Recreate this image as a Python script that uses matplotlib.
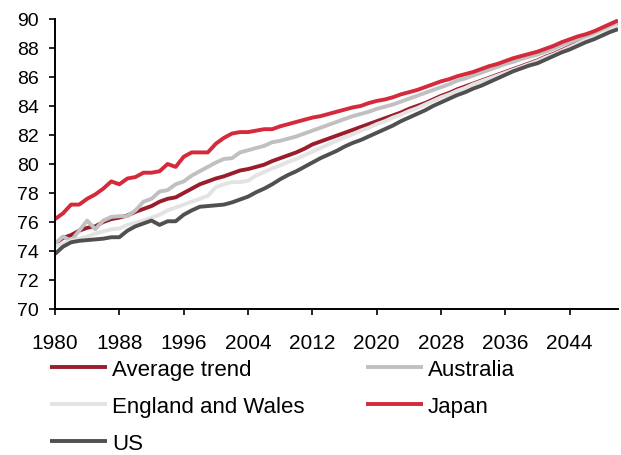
import matplotlib.pyplot as plt
import numpy as np

plt.rcParams['font.family'] = ['Liberation Sans', 'DejaVu Sans']

# Life expectancy projections, 1980-2050
years = np.arange(1980, 2051)

average_trend = [
    74.5, 74.9, 75.1, 75.4, 75.6, 75.7, 76.0, 76.2, 76.3, 76.45,
    76.7, 76.9, 77.1, 77.4, 77.6, 77.7, 78.0, 78.3, 78.6, 78.8,
    79.0, 79.15, 79.35, 79.55, 79.65, 79.8, 79.95, 80.2, 80.4, 80.6,
    80.8, 81.05, 81.35, 81.55, 81.75, 81.95, 82.15, 82.35, 82.55, 82.75,
    82.95, 83.15, 83.35, 83.55, 83.8, 84.0, 84.2, 84.45, 84.7, 84.9,
    85.15, 85.35, 85.55, 85.75, 85.95, 86.15, 86.35, 86.55, 86.75, 86.95,
    87.15, 87.4, 87.6, 87.85, 88.1, 88.35, 88.6, 88.8, 89.05, 89.3,
    89.55,
]
australia = [
    74.5, 75.0, 74.7, 75.4, 76.1, 75.5, 76.1, 76.35, 76.4, 76.4,
    76.8, 77.4, 77.6, 78.1, 78.2, 78.6, 78.8, 79.2, 79.5, 79.8,
    80.1, 80.35, 80.4, 80.8, 80.95, 81.1, 81.25, 81.5, 81.6, 81.75,
    81.9, 82.1, 82.3, 82.5, 82.7, 82.9, 83.1, 83.3, 83.45, 83.6,
    83.8, 83.95, 84.1, 84.3, 84.5, 84.7, 84.9, 85.1, 85.3, 85.5,
    85.75, 85.9, 86.1, 86.3, 86.5, 86.7, 86.9, 87.05, 87.25, 87.4,
    87.55, 87.75, 87.95, 88.2, 88.4, 88.6, 88.8, 89.0, 89.2, 89.45,
    89.7,
]
england_wales = [
    74.3, 74.5, 74.7, 74.85, 75.0, 75.2, 75.35, 75.5, 75.55, 75.8,
    75.95, 76.1, 76.3, 76.5, 76.8, 77.0, 77.2, 77.4, 77.6, 77.8,
    78.4, 78.6, 78.75, 78.75, 78.85, 79.2, 79.45, 79.7, 79.9, 80.15,
    80.35, 80.6, 80.85, 81.1, 81.35, 81.6, 81.85, 82.05, 82.3, 82.5,
    82.75, 82.95, 83.2, 83.4, 83.65, 83.85, 84.1, 84.35, 84.6, 84.8,
    85.05, 85.25, 85.5, 85.7, 85.9, 86.1, 86.3, 86.5, 86.7, 86.9,
    87.1, 87.35, 87.55, 87.8, 88.05, 88.3, 88.55, 88.75, 89.0, 89.25,
    89.5,
]
japan = [
    76.2, 76.6, 77.2, 77.2, 77.6, 77.9, 78.3, 78.8, 78.6, 79.0,
    79.1, 79.4, 79.4, 79.5, 80.0, 79.8, 80.5, 80.8, 80.8, 80.8,
    81.4, 81.8, 82.1, 82.2, 82.2, 82.3, 82.4, 82.4, 82.6, 82.75,
    82.9, 83.05, 83.2, 83.3, 83.45, 83.6, 83.75, 83.9, 84.0, 84.2,
    84.35, 84.45, 84.6, 84.8, 84.95, 85.1, 85.3, 85.5, 85.7, 85.85,
    86.05, 86.2, 86.35, 86.55, 86.75, 86.9, 87.1, 87.3, 87.45, 87.6,
    87.75, 87.95, 88.15, 88.4, 88.6, 88.8, 88.95, 89.15, 89.4, 89.65,
    89.9,
]
us = [
    73.8, 74.3, 74.6, 74.7, 74.75, 74.8, 74.85, 74.95, 74.95, 75.4,
    75.7, 75.9, 76.1, 75.8, 76.05, 76.05, 76.5, 76.8, 77.05, 77.1,
    77.15, 77.2, 77.35, 77.55, 77.75, 78.05, 78.3, 78.6, 78.95, 79.25,
    79.5, 79.8, 80.1, 80.4, 80.65, 80.9, 81.2, 81.45, 81.65, 81.9,
    82.15, 82.4, 82.65, 82.95, 83.2, 83.45, 83.7, 84.0, 84.25, 84.5,
    84.75, 84.95, 85.2, 85.4, 85.65, 85.9, 86.15, 86.4, 86.6, 86.8,
    86.95, 87.2, 87.45, 87.7, 87.9, 88.15, 88.4, 88.6, 88.85, 89.1,
    89.3,
]

series = [
    ('Average trend', average_trend, '#9a1d2c'),
    ('Australia', australia, '#c0c0c0'),
    ('England and Wales', england_wales, '#e3e3e3'),
    ('Japan', japan, '#d42a3b'),
    ('US', us, '#505050'),
]

fig = plt.figure(figsize=(6.21, 4.56), dpi=100)
ax = fig.add_axes([55 / 621, 1 - 310 / 456, 563 / 621, 290 / 456])

lines = []
for label, values, color in series:
    ln, = ax.plot(years, values, color=color, lw=2.8, label=label, solid_capstyle='butt')
    lines.append(ln)

ax.set_xlim(1980, 2050)
ax.set_ylim(70, 90)
ax.set_xticks(np.arange(1980, 2045, 8))
ax.set_yticks(np.arange(70, 91, 2))
ax.tick_params(length=4, width=1.2, color='black')
ax.tick_params(axis='x', labelsize=15, pad=13)
ax.tick_params(axis='y', labelsize=14, pad=7.5)
for side in ['top', 'right']:
    ax.spines[side].set_visible(False)
for side in ['left', 'bottom']:
    ax.spines[side].set_linewidth(1.4)

# legend fills row by row in the reference; matplotlib fills by column
order = [0, 2, 4, 1, 3]
fig.legend([lines[i] for i in order], [series[i][0] for i in order],
           loc='upper left', bbox_to_anchor=(50 / 621, 1 - 360 / 456),
           ncol=2, frameon=False, fontsize=16, handlelength=2.55,
           handletextpad=0.25, columnspacing=2.75, labelspacing=0.72,
           borderaxespad=0, borderpad=0)

fig.savefig('out.png', dpi=100)
